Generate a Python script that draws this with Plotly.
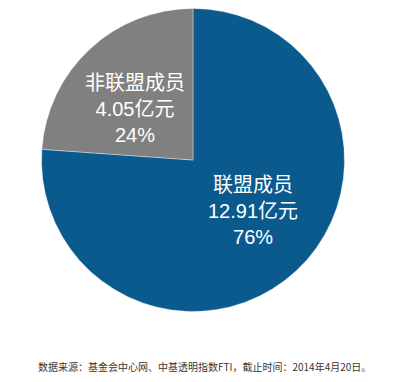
import plotly.graph_objects as go

labels = ["联盟成员", "非联盟成员"]
values = [12.91, 4.05]
colors = ["#0b5a8e", "#808080"]
source_note = "数据来源：基金会中心网、中基透明指数FTI，截止时间：2014年4月20日。"

W, H = 395, 382
OFF = 8  # default page body margin offsets the figure
cx, cy, r = 193 - OFF, 159 - OFF + 1, 151.5

# label centres in screen pixels
label_pos = {"联盟成员": (253, 211), "非联盟成员": (135, 109)}

total = sum(values)

fig = go.Figure(go.Pie(
    labels=labels,
    values=values,
    sort=False,
    direction="clockwise",
    rotation=0,
    marker=dict(colors=colors, line=dict(color="rgba(255,255,255,0.6)", width=0.6)),
    textinfo="none",
    hoverinfo="skip",
    showlegend=False,
    domain=dict(x=[(cx - r) / W, (cx + r) / W],
                y=[max(0, 1 - (cy + r) / H), min(1, 1 - (cy - r) / H)]),
))

for lab, val in zip(labels, values):
    px, py = label_pos[lab]
    fig.add_annotation(
        text=f"{lab}<br>{val:.2f}亿元<br>{val / total:.0%}",
        x=(px - OFF) / W, y=1 - (py - OFF) / H, xref="paper", yref="paper",
        showarrow=False, xanchor="center", yanchor="middle", align="center",
        font=dict(family="Liberation Sans, Arial, Noto Sans CJK SC", size=20, color="white"),
    )

fig.add_annotation(
    text=source_note, x=(204 - OFF) / W, y=1 - (366 - OFF) / H, xref="paper", yref="paper",
    showarrow=False, xanchor="center", yanchor="middle",
    font=dict(family="Noto Sans CJK SC, Liberation Sans", size=10, color="#3a3530"),
)

fig.update_layout(
    width=W, height=H,
    margin=dict(l=0, r=0, t=0, b=0),
    paper_bgcolor="white", plot_bgcolor="white",
)

fig.write_html("out.html")
